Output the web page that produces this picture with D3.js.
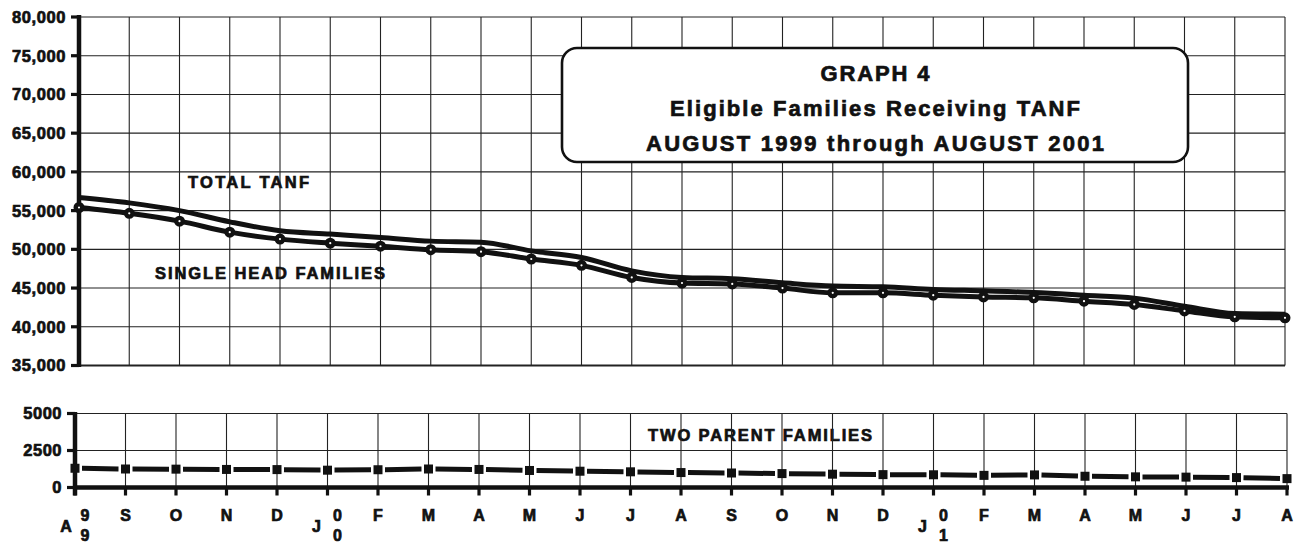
<!DOCTYPE html>
<html><head><meta charset="utf-8">
<script src="https://cdn.jsdelivr.net/npm/d3@7"></script>
<style>
html,body{margin:0;padding:0;background:#fff;}
svg{display:block;}
text{font-family:"Liberation Sans",Arial,Helvetica,sans-serif;font-weight:bold;fill:#111;stroke:#111;stroke-width:0.7px;}
</style>
</head><body>
<svg id="c" width="1298" height="542"></svg>
<script>
// ---- data ----
const months = ["A","S","O","N","D","J","F","M","A","M","J","J","A","S","O","N","D","J","F","M","A","M","J","J","A"];
const yearDigits = {0:"99", 5:"00", 17:"01"};
const totalTanf = [56700,56000,55000,53550,52400,51970,51540,51060,50930,49800,48950,47220,46370,46200,45670,45250,45160,44820,44640,44430,44080,43700,42660,41720,41630];
const singleHead = [55400,54650,53640,52220,51320,50800,50400,49950,49700,48750,47930,46370,45650,45530,45000,44380,44380,44080,43860,43740,43310,42880,42050,41280,41150];
const twoParent = [1300,1250,1240,1220,1210,1170,1200,1250,1220,1150,1100,1060,1010,980,940,900,870,860,820,850,760,720,700,670,600];
const topTicks = [35000,40000,45000,50000,55000,60000,65000,70000,75000,80000];
const bottomTicks = [0,2500,5000];
const titleLines = ["GRAPH 4","Eligible Families Receiving TANF","AUGUST 1999 through AUGUST 2001"];
const seriesLabels = ["TOTAL TANF","SINGLE HEAD FAMILIES","TWO PARENT FAMILIES"];

// ---- scales ----
const svg = d3.select("#c");
const n = months.length;
const idx = d3.range(n);
const xTop = d3.scaleLinear().domain([0, n-1]).range([79, 1285]);
const yTop = d3.scaleLinear().domain([35000, 80000]).range([365.5, 17]);
const xBot = d3.scaleLinear().domain([0, n-1]).range([75, 1287]);
const yBot = d3.scaleLinear().domain([0, 5000]).range([487.5, 413.5]);
const fmt = d3.format(",");
const ink = "#111";

// ---- top panel grid ----
const gTop = svg.append("g");
gTop.selectAll("line.v").data(idx).join("line")
  .attr("x1", i => xTop(i)).attr("x2", i => xTop(i))
  .attr("y1", yTop(80000)).attr("y2", yTop(35000))
  .attr("stroke", "#222").attr("stroke-width", 1.1);
gTop.selectAll("line.h").data(topTicks).join("line")
  .attr("x1", xTop(0)).attr("x2", xTop(n-1))
  .attr("y1", d => yTop(d)).attr("y2", d => yTop(d))
  .attr("stroke", "#222").attr("stroke-width", d => d === 35000 ? 2 : 1.1);
gTop.append("line").attr("x1", xTop(0)).attr("x2", xTop(0))
  .attr("y1", yTop(80000) - 2).attr("y2", yTop(35000) + 1.5)
  .attr("stroke", ink).attr("stroke-width", 4.5);
gTop.selectAll("line.t").data(topTicks).join("line")
  .attr("x1", xTop(0) - 8).attr("x2", xTop(0))
  .attr("y1", d => yTop(d)).attr("y2", d => yTop(d))
  .attr("stroke", ink).attr("stroke-width", 3.2);
gTop.selectAll("text.yl").data(topTicks).join("text")
  .attr("x", 66).attr("y", d => yTop(d)).attr("dy", "0.36em")
  .attr("text-anchor", "end").attr("font-size", 16.5).attr("letter-spacing", 0.6)
  .text(d => fmt(d));

// ---- title box ----
svg.append("rect").attr("x", 562).attr("y", 48).attr("width", 626).attr("height", 114)
  .attr("rx", 15).attr("ry", 15).attr("fill", "#fff").attr("stroke", ink).attr("stroke-width", 2.6);
const titleY = [80.5, 116, 150.5];
const titleW = [109, 410, 458];
svg.selectAll("text.title").data(titleLines).join("text")
  .attr("x", 875).attr("y", (d, i) => titleY[i]).attr("text-anchor", "middle")
  .attr("font-size", 22).attr("stroke-width", 0.9)
  .attr("textLength", (d, i) => titleW[i]).attr("lengthAdjust", "spacing")
  .text(d => d);

// ---- top lines ----
const lineTop = d3.line().x((d, i) => xTop(i)).y(d => yTop(d)).curve(d3.curveMonotoneX);
svg.append("path").datum(totalTanf).attr("d", lineTop)
  .attr("fill", "none").attr("stroke", ink).attr("stroke-width", 5).attr("stroke-linejoin", "round");
svg.append("path").datum(singleHead).attr("d", lineTop)
  .attr("fill", "none").attr("stroke", ink).attr("stroke-width", 5).attr("stroke-linejoin", "round");
svg.selectAll("circle.m").data(singleHead).join("circle")
  .attr("cx", (d, i) => xTop(i)).attr("cy", d => yTop(d)).attr("r", 3.3)
  .attr("fill", "#fff").attr("stroke", ink).attr("stroke-width", 4.4);

// series labels
const labelPos = [[188, 188, 121], [155, 279, 230], [648, 441, 224]];
svg.selectAll("text.sl").data(seriesLabels).join("text")
  .attr("x", (d, i) => labelPos[i][0]).attr("y", (d, i) => labelPos[i][1])
  .attr("font-size", 16.5).attr("textLength", (d, i) => labelPos[i][2]).attr("lengthAdjust", "spacing")
  .text(d => d);

// ---- bottom panel ----
const gBot = svg.append("g");
gBot.selectAll("line.v").data(idx).join("line")
  .attr("x1", i => xBot(i)).attr("x2", i => xBot(i))
  .attr("y1", yBot(5000)).attr("y2", yBot(0))
  .attr("stroke", "#222").attr("stroke-width", 1.1);
gBot.selectAll("line.h").data(bottomTicks.filter(d => d > 0)).join("line")
  .attr("x1", xBot(0)).attr("x2", xBot(n-1))
  .attr("y1", d => yBot(d)).attr("y2", d => yBot(d))
  .attr("stroke", "#222").attr("stroke-width", 1.1);
gBot.append("line").attr("x1", xBot(0)).attr("x2", xBot(0))
  .attr("y1", yBot(5000) - 1.5).attr("y2", yBot(0) + 8)
  .attr("stroke", ink).attr("stroke-width", 4.5);
gBot.append("line").attr("x1", xBot(0) - 1).attr("x2", xBot(n-1) + 2)
  .attr("y1", yBot(0)).attr("y2", yBot(0))
  .attr("stroke", ink).attr("stroke-width", 4.5);
gBot.selectAll("line.t").data(bottomTicks).join("line")
  .attr("x1", xBot(0) - 8).attr("x2", xBot(0))
  .attr("y1", d => yBot(d)).attr("y2", d => yBot(d))
  .attr("stroke", ink).attr("stroke-width", 3.2);
gBot.selectAll("line.xt").data(idx).join("line")
  .attr("x1", i => xBot(i)).attr("x2", i => xBot(i))
  .attr("y1", yBot(0)).attr("y2", yBot(0) + 8)
  .attr("stroke", ink).attr("stroke-width", 3.2);
gBot.selectAll("text.yl").data(bottomTicks).join("text")
  .attr("x", 62).attr("y", d => yBot(d)).attr("dy", "0.36em")
  .attr("text-anchor", "end").attr("font-size", 16.5).attr("letter-spacing", 0.5)
  .text(d => d);

// two parent: broken line with square markers
const segs = d3.range(n - 1).map(i => {
  const x1 = xBot(i), x2 = xBot(i + 1), y1 = yBot(twoParent[i]), y2 = yBot(twoParent[i + 1]);
  const g = 7, t1 = g / (x2 - x1), t2 = 1 - t1;
  return [x1 + (x2 - x1) * t1, y1 + (y2 - y1) * t1, x1 + (x2 - x1) * t2, y1 + (y2 - y1) * t2];
});
svg.selectAll("line.tp").data(segs).join("line")
  .attr("x1", d => d[0]).attr("y1", d => d[1]).attr("x2", d => d[2]).attr("y2", d => d[3])
  .attr("stroke", ink).attr("stroke-width", 5);
svg.selectAll("rect.sq").data(twoParent).join("rect")
  .attr("x", (d, i) => xBot(i) - 4.5).attr("y", d => yBot(d) - 4.5)
  .attr("width", 9).attr("height", 9).attr("fill", ink);

// x labels
const gx = svg.append("g");
idx.forEach(i => {
  const x = xBot(i);
  if (yearDigits[i]) {
    const off = i === 0 ? -9 : -11;
    gx.append("text").attr("x", x + off).attr("y", 532).attr("text-anchor", "middle")
      .attr("font-size", 16).text(months[i]);
    gx.append("text").attr("x", x + 10).attr("y", 521).attr("text-anchor", "middle")
      .attr("font-size", 16).text(yearDigits[i][0]);
    gx.append("text").attr("x", x + 10).attr("y", 540.5).attr("text-anchor", "middle")
      .attr("font-size", 16).text(yearDigits[i][1]);
  } else {
    gx.append("text").attr("x", x).attr("y", 521).attr("text-anchor", "middle")
      .attr("font-size", 16).text(months[i]);
  }
});
</script>
</body></html>
